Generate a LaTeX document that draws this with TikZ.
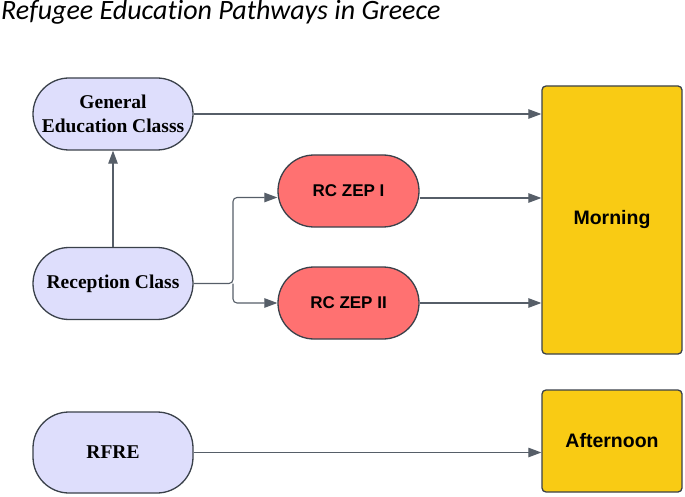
\documentclass[tikz,border=0pt]{standalone}
\usepackage{fontspec}
\setmainfont{Liberation Serif}
\newfontfamily\titlefont[Ligatures=NoCommon]{Carlito}
\newfontfamily\boxfont{Liberation Sans}
\usetikzlibrary{arrows.meta,positioning,calc}

\definecolor{pilllav}{HTML}{DEDEFC}
\definecolor{zepred}{HTML}{FF7171}
\definecolor{slotyel}{HTML}{F9CB14}
\definecolor{edgegray}{HTML}{3A414A}
\definecolor{linegray}{HTML}{565E68}

\begin{document}
\begin{tikzpicture}[x=1pt,y=-1pt,
    link/.style={draw=linegray, line width=1.1pt, -{Triangle[length=13pt,width=9.5pt]}},
    classpill/.style={draw=edgegray, fill=pilllav, line width=1.3pt, rounded corners=36pt,
        minimum width=160pt, minimum height=72pt, align=center, inner sep=0pt,
        font=\fontsize{19.5}{24}\selectfont\bfseries},
    zeppill/.style={draw=edgegray, fill=zepred, line width=1.3pt, rounded corners=36pt,
        minimum width=141pt, minimum height=72pt, inner sep=0pt,
        font=\boxfont\fontsize{17}{20}\selectfont\bfseries},
    slotbox/.style={draw=edgegray, fill=slotyel, line width=1.3pt, rounded corners=4pt,
        minimum width=140pt, inner sep=0pt,
        font=\boxfont\fontsize{19.5}{22}\selectfont\bfseries}]
    % Fix the page size
    \useasboundingbox (0,0) rectangle (685,497);
    % Title
    \node[anchor=base west, inner sep=0pt, font=\titlefont\itshape\fontsize{28}{32}\selectfont]
        (title) at (1,20) {Refugee Education Pathways in Greece};
    % Class pills on the left
    \node[classpill] (general) at (113,114) {General\\Education Classs};
    \node[classpill] (reception) at (113,283.5) {Reception Class};
    \node[classpill, minimum height=81pt] (rfre) at (113,452.5) {RFRE};
    % Reception class branches
    \node[zeppill] (zepone) at (348.5,191) {RC ZEP I};
    \node[zeppill] (zeptwo) at (348.5,303) {RC ZEP II};
    % Time slots on the right
    \node[slotbox, minimum height=268pt] (morning) at (612,220) {Morning};
    \node[slotbox, minimum height=102pt] (afternoon) at (612,441) {Afternoon};
    % Connectors
    \coordinate (fork) at (233,283.5);
    \coordinate (zeponein) at ($(zepone.west)+(0,6.5)$);
    \coordinate (zeponeout) at ($(zepone.east)+(0,7)$);
    \draw[link] (reception.north) -- (general.south);
    \draw[link] (general.east) -- (general.east -| morning.west);
    \draw[link, rounded corners=4pt] (reception.east) -- (fork) |- (zeponein);
    \draw[link, rounded corners=4pt] (fork) |- (zeptwo.west);
    \draw[link] (zeponeout) -- (zeponeout -| morning.west);
    \draw[link] (zeptwo.east) -- (zeptwo.east -| morning.west);
    \draw[link] (rfre.east) -- (rfre.east -| afternoon.west);
\end{tikzpicture}
\end{document}
